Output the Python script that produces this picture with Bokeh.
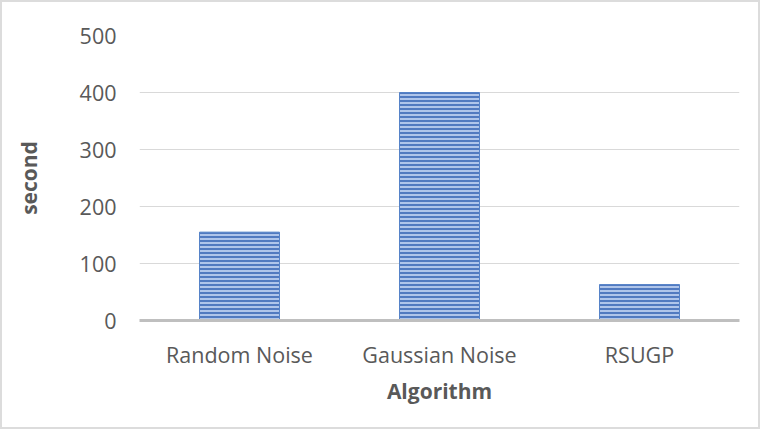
from bokeh.plotting import figure
from bokeh.models import ColumnDataSource, Range1d, FixedTicker
from bokeh.embed import file_html
from bokeh.resources import INLINE

algorithms = ["Random Noise", "Gaussian Noise", "RSUGP"]
seconds = [155, 400, 63]
y_ticks = [0, 100, 200, 300, 400, 500]

src = ColumnDataSource(dict(alg=algorithms, sec=seconds))

p = figure(x_range=algorithms, y_range=Range1d(0, 500),
           width=760, height=429, output_backend="svg", toolbar_location=None,
           min_border_left=137, min_border_right=23, min_border_top=33, min_border_bottom=111)

p.vbar(x="alg", top="sec", bottom=0, width=0.4, source=src,
       fill_color="#afc5ea", line_color="#5683c8", line_width=1,
       hatch_pattern="horizontal_line", hatch_color="#4672bb",
       hatch_scale=4, hatch_weight=1.8)

p.outline_line_color = None
p.border_fill_color = "white"
p.background_fill_color = "white"

p.xgrid.grid_line_color = None
p.ygrid.grid_line_color = "#d9d9d9"
p.ygrid.grid_line_width = 1
p.yaxis.ticker = FixedTicker(ticks=y_ticks)

for ax in (p.xaxis, p.yaxis):
    ax.major_tick_line_color = None
    ax.minor_tick_line_color = None
    ax.major_label_text_font = "Open Sans"
    ax.major_label_text_font_size = "21.5px"
    ax.major_label_text_color = "#595959"
    ax.axis_label_text_font = "Open Sans"
    ax.axis_label_text_font_size = "21px"
    ax.axis_label_text_font_style = "bold"
    ax.axis_label_text_color = "#595959"

p.yaxis.axis_line_color = None
p.xaxis.axis_line_color = "#bfbfbf"
p.xaxis.axis_line_width = 3
p.yaxis.major_label_standoff = 17
p.xaxis.major_label_standoff = 13
p.xaxis.axis_label = "Algorithm"
p.yaxis.axis_label = "second"
p.xaxis.axis_label_standoff = 5
p.yaxis.axis_label_standoff = 34

p.styles = {"border": "2px solid #dcdcdc", "box-sizing": "border-box"}

open("out.html", "w").write(file_html(p, INLINE))
